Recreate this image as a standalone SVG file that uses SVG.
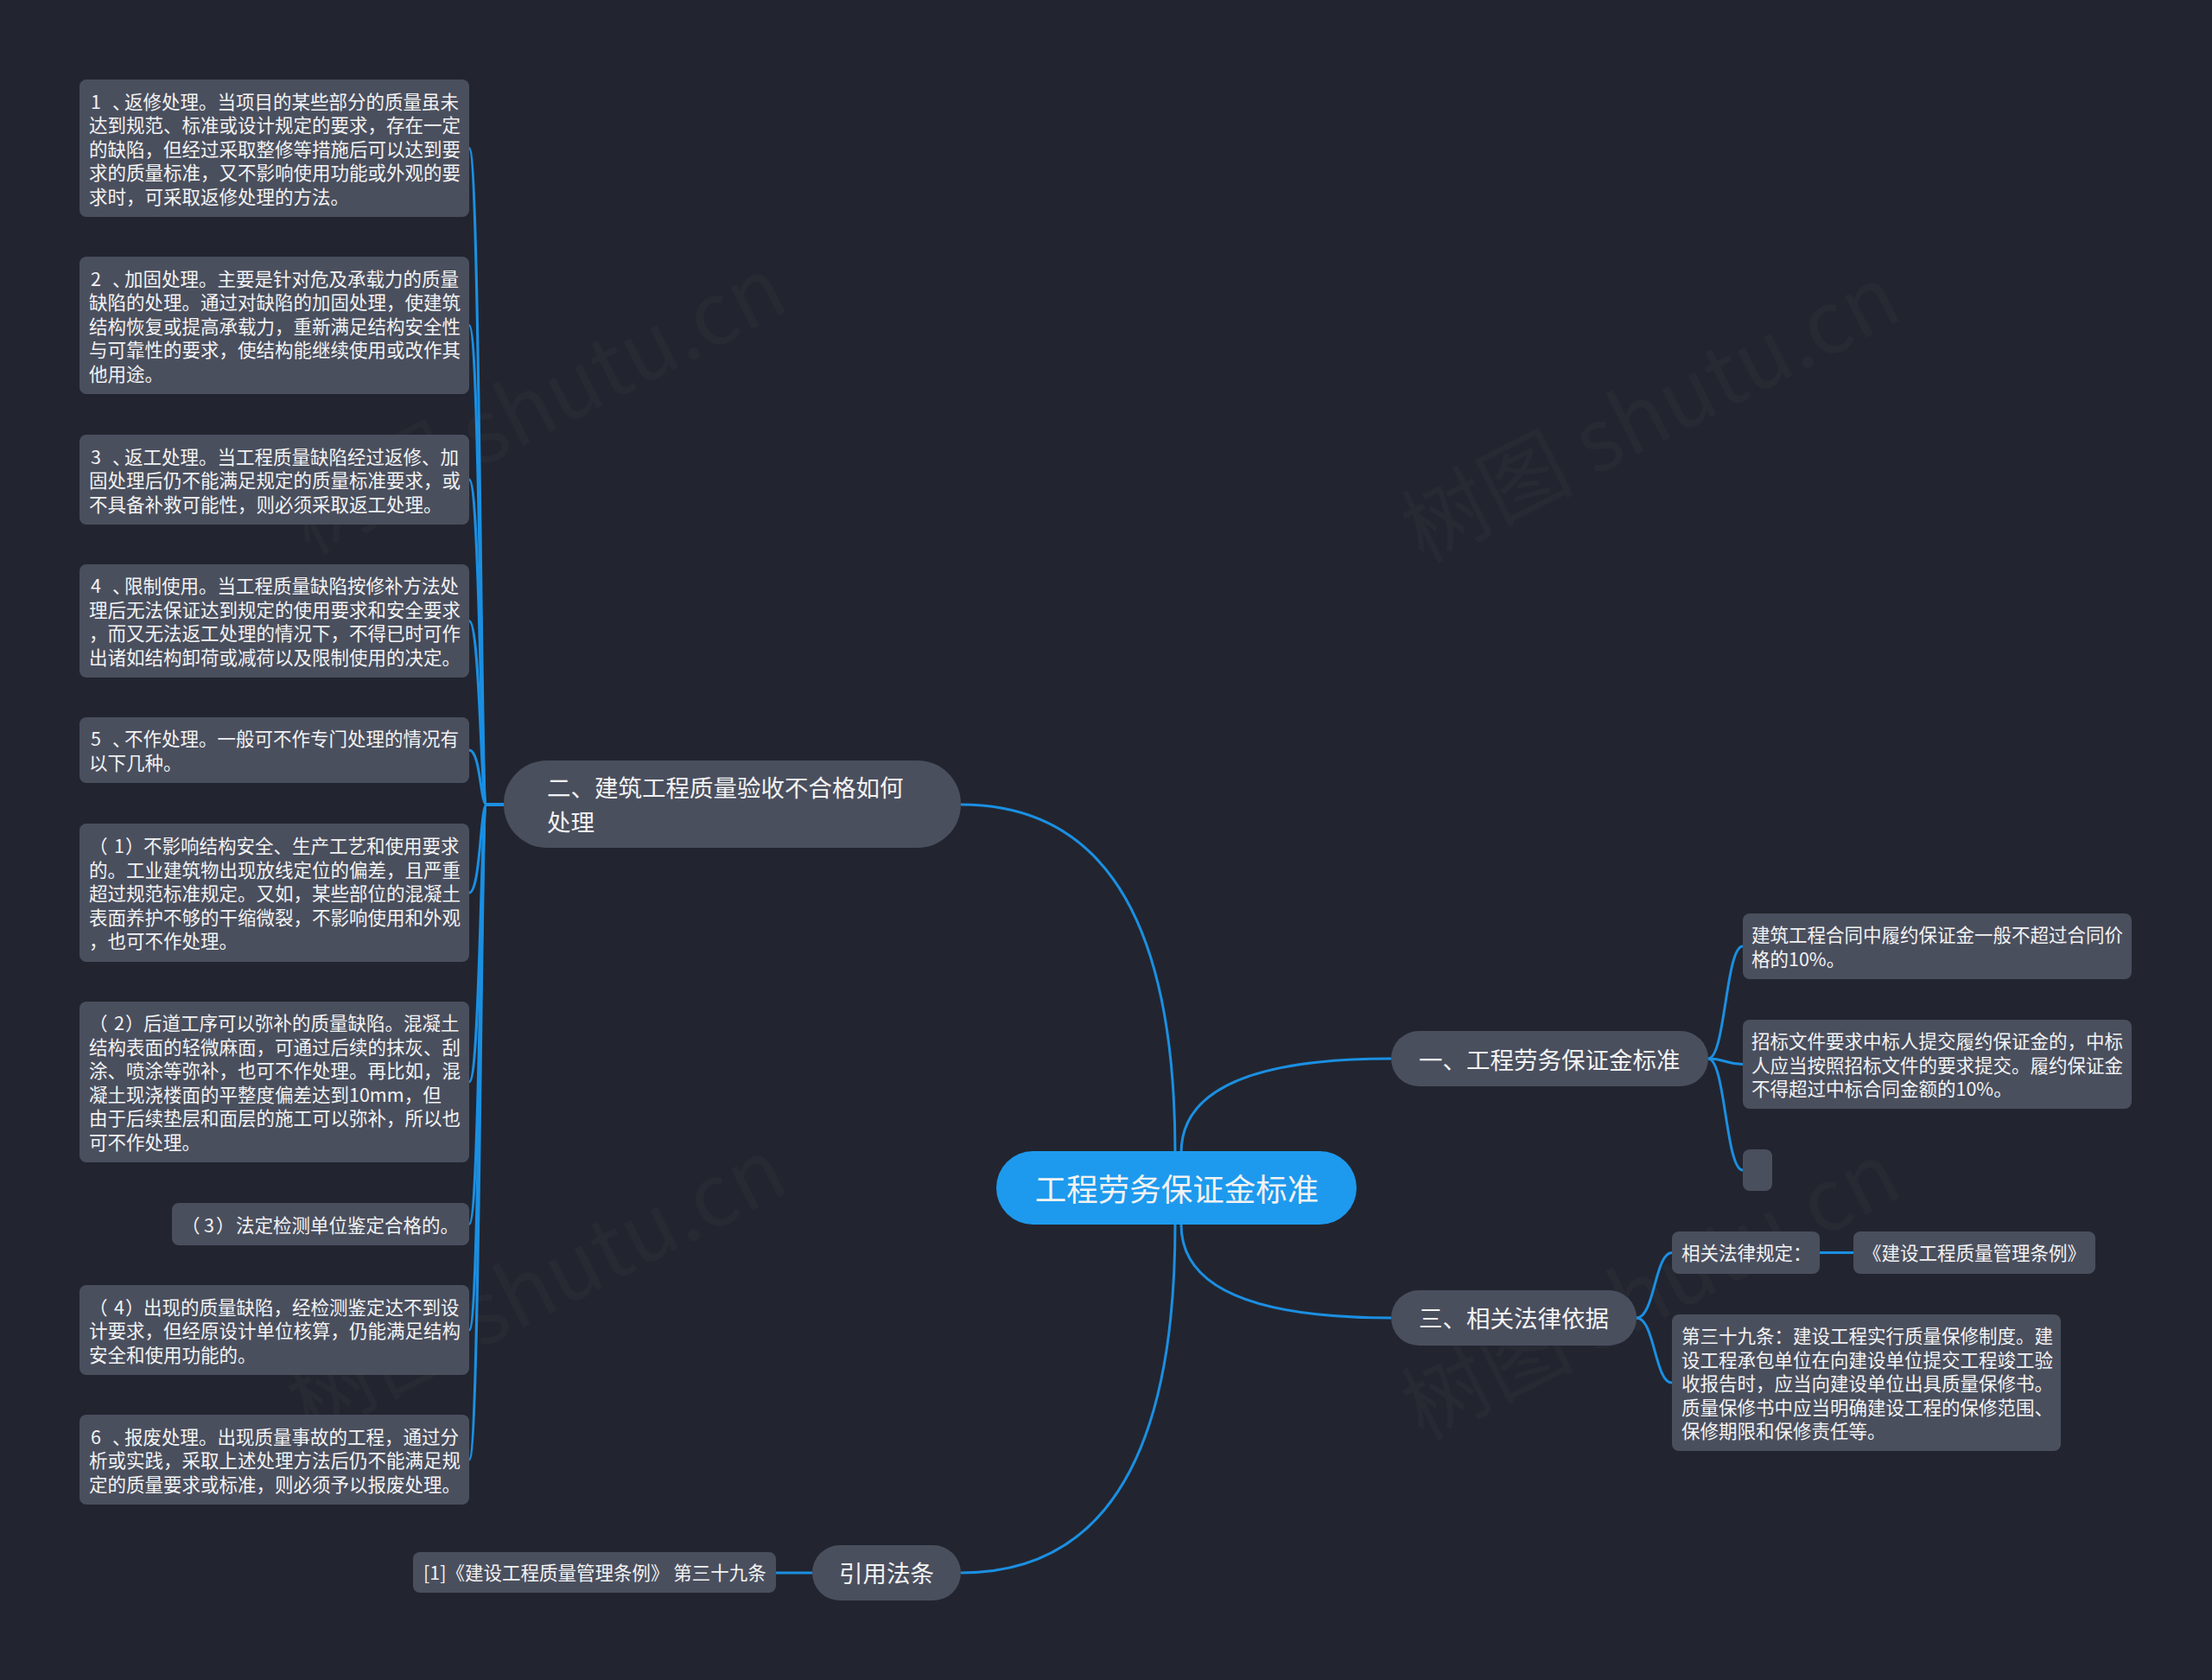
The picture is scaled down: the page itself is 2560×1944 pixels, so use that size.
<svg xmlns="http://www.w3.org/2000/svg" width="2560" height="1944" viewBox="0 0 2560 1944">
<style>
.bg{fill:#22252f}
.leaf{fill:#4a4f5e}
.main{fill:#4a4f5e}
.root{fill:#1d9aee}
.t{font-family:"Noto Sans CJK SC","Noto Sans",sans-serif;fill:#f2f2f2;dominant-baseline:central}
.s{font-size:21.5px}
.m{font-size:27.5px}
.r{font-size:36.5px}
.ln{fill:none;stroke:#1b8fe2;stroke-width:3}
.wm{font-family:"Noto Sans CJK SC","Noto Sans",sans-serif;font-size:100px;fill:#ffffff;fill-opacity:0.025}
</style>
<rect class="bg" x="0" y="0" width="2560" height="1944"/>

<g id="watermarks">
<text class="wm" transform="translate(637,500) rotate(-27)" text-anchor="middle">树图 shutu.cn</text>
<text class="wm" transform="translate(1926,510) rotate(-27)" text-anchor="middle">树图 shutu.cn</text>
<text class="wm" transform="translate(637,1520) rotate(-27)" text-anchor="middle">树图 shutu.cn</text>
<text class="wm" transform="translate(1926,1525) rotate(-27)" text-anchor="middle">树图 shutu.cn</text>
</g>

<g id="connectors">
<path class="ln" d="M1112,931 Q1360,931 1360,1334"/>
<path class="ln" d="M1360,1417 Q1360,1820 1112,1820"/>
<path class="ln" d="M1367,1334 Q1367,1225 1610,1225"/>
<path class="ln" d="M1367,1417 Q1367,1525 1610,1525"/>
<path class="ln" d="M940,1820 L898,1820"/>
<path class="ln" d="M2106,1449.5 L2145,1449.5"/>
<path class="ln" d="M1977,1225 C1997,1225 1997,1095 2017,1095"/>
<path class="ln" d="M1977,1225 C1997,1225 1997,1231.5 2017,1231.5"/>
<path class="ln" d="M1977,1225 C1997,1225 1997,1354 2017,1354"/>
<path class="ln" d="M1894,1525 C1915,1525 1915,1449.5 1935,1449.5"/>
<path class="ln" d="M1894,1525 C1915,1525 1915,1600 1935,1600"/>
<path class="ln" d="M583,931 L563,931 C556,931 556,171.5 543,171.5"/>
<path class="ln" d="M583,931 L563,931 C556,931 556,376.5 543,376.5"/>
<path class="ln" d="M583,931 L563,931 C556,931 556,555 543,555"/>
<path class="ln" d="M583,931 L563,931 C556,931 556,718.5 543,718.5"/>
<path class="ln" d="M583,931 L563,931 C556,931 556,868 543,868"/>
<path class="ln" d="M583,931 L563,931 C556,931 556,1033 543,1033"/>
<path class="ln" d="M583,931 L563,931 C556,931 556,1252 543,1252"/>
<path class="ln" d="M583,931 L563,931 C556,931 556,1416.5 543,1416.5"/>
<path class="ln" d="M583,931 L563,931 C556,931 556,1539 543,1539"/>
<path class="ln" d="M583,931 L563,931 C556,931 556,1689 543,1689"/>
</g>

<g id="root">
<rect class="root" x="1153" y="1332" width="417" height="85" rx="42.5"/>
<text class="t r" x="1362" y="1374" text-anchor="middle">工程劳务保证金标准</text>
</g>

<g id="n2">
<rect class="main" x="583" y="880" width="529" height="101" rx="50"/>
<text class="t m"><tspan x="633" y="910">二、建筑工程质量验收不合格如何</tspan><tspan x="633" y="950">处理</tspan></text>
</g>

<g id="n1">
<rect class="main" x="1610" y="1193" width="367" height="64" rx="32"/>
<text class="t m" x="1642" y="1225">一、工程劳务保证金标准</text>
</g>

<g id="n3">
<rect class="main" x="1610" y="1493" width="284" height="64" rx="32"/>
<text class="t m" x="1642" y="1524">三、相关法律依据</text>
</g>

<g id="n4">
<rect class="main" x="940" y="1788" width="172" height="64" rx="32"/>
<text class="t m" x="1026" y="1819" text-anchor="middle">引用法条</text>
</g>

<g id="ref1">
<rect class="leaf" x="478" y="1796" width="420" height="47" rx="8"/>
<text class="t s" x="490" y="1818.5">[1]《建设工程质量管理条例》 第三十九条</text>
</g>

<g id="l1">
<rect class="leaf" x="92" y="92" width="451" height="159" rx="8"/>
<text class="t s"><tspan x="105 130 144" y="115.5">1、返修处理。当项目的某些部分的质量虽未</tspan><tspan x="103" y="143">达到规范、标准或设计规定的要求，存在一定</tspan><tspan x="103" y="170.5">的缺陷，但经过采取整修等措施后可以达到要</tspan><tspan x="103" y="198">求的质量标准，又不影响使用功能或外观的要</tspan><tspan x="103" y="225.5">求时，可采取返修处理的方法。</tspan></text>
</g>

<g id="l2">
<rect class="leaf" x="92" y="297" width="451" height="159" rx="8"/>
<text class="t s"><tspan x="105 130 144" y="320.5">2、加固处理。主要是针对危及承载力的质量</tspan><tspan x="103" y="348">缺陷的处理。通过对缺陷的加固处理，使建筑</tspan><tspan x="103" y="375.5">结构恢复或提高承载力，重新满足结构安全性</tspan><tspan x="103" y="403">与可靠性的要求，使结构能继续使用或改作其</tspan><tspan x="103" y="430.5">他用途。</tspan></text>
</g>

<g id="l3">
<rect class="leaf" x="92" y="503" width="451" height="104" rx="8"/>
<text class="t s"><tspan x="105 130 144" y="526.5">3、返工处理。当工程质量缺陷经过返修、加</tspan><tspan x="103" y="554">固处理后仍不能满足规定的质量标准要求，或</tspan><tspan x="103" y="581.5">不具备补救可能性，则必须采取返工处理。</tspan></text>
</g>

<g id="l4">
<rect class="leaf" x="92" y="653" width="451" height="131" rx="8"/>
<text class="t s"><tspan x="105 130 144" y="676.25">4、限制使用。当工程质量缺陷按修补方法处</tspan><tspan x="103" y="703.75">理后无法保证达到规定的使用要求和安全要求</tspan><tspan x="103" y="731.25">，而又无法返工处理的情况下，不得已时可作</tspan><tspan x="103" y="758.75">出诸如结构卸荷或减荷以及限制使用的决定。</tspan></text>
</g>

<g id="l5">
<rect class="leaf" x="92" y="830" width="451" height="76" rx="8"/>
<text class="t s"><tspan x="105 130 144" y="853.25">5、不作处理。一般可不作专门处理的情况有</tspan><tspan x="103" y="880.75">以下几种。</tspan></text>
</g>

<g id="l6">
<rect class="leaf" x="92" y="953" width="451" height="160" rx="8"/>
<text class="t s"><tspan x="103 132 145 166" y="977">（1）不影响结构安全、生产工艺和使用要求</tspan><tspan x="103" y="1004.5">的。工业建筑物出现放线定位的偏差，且严重</tspan><tspan x="103" y="1032">超过规范标准规定。又如，某些部位的混凝土</tspan><tspan x="103" y="1059.5">表面养护不够的干缩微裂，不影响使用和外观</tspan><tspan x="103" y="1087">，也可不作处理。</tspan></text>
</g>

<g id="l7">
<rect class="leaf" x="92" y="1159" width="451" height="186" rx="8"/>
<text class="t s"><tspan x="103 132 145 166" y="1182.25">（2）后道工序可以弥补的质量缺陷。混凝土</tspan><tspan x="103" y="1209.75">结构表面的轻微麻面，可通过后续的抹灰、刮</tspan><tspan x="103" y="1237.25">涂、喷涂等弥补，也可不作处理。再比如，混</tspan><tspan x="103" y="1264.75">凝土现浇楼面的平整度偏差达到10mm，但</tspan><tspan x="103" y="1292.25">由于后续垫层和面层的施工可以弥补，所以也</tspan><tspan x="103" y="1319.75">可不作处理。</tspan></text>
</g>

<g id="l8">
<rect class="leaf" x="199" y="1392" width="344" height="49" rx="8"/>
<text class="t s"><tspan x="210 236 250 273" y="1415.5">（3）法定检测单位鉴定合格的。</tspan></text>
</g>

<g id="l9">
<rect class="leaf" x="92" y="1487" width="451" height="104" rx="8"/>
<text class="t s"><tspan x="103 132 145 166" y="1510.5">（4）出现的质量缺陷，经检测鉴定达不到设</tspan><tspan x="103" y="1538">计要求，但经原设计单位核算，仍能满足结构</tspan><tspan x="103" y="1565.5">安全和使用功能的。</tspan></text>
</g>

<g id="l10">
<rect class="leaf" x="92" y="1637" width="451" height="104" rx="8"/>
<text class="t s"><tspan x="105 130 144" y="1660.5">6、报废处理。出现质量事故的工程，通过分</tspan><tspan x="103" y="1688">析或实践，采取上述处理方法后仍不能满足规</tspan><tspan x="103" y="1715.5">定的质量要求或标准，则必须予以报废处理。</tspan></text>
</g>

<g id="r1">
<rect class="leaf" x="2017" y="1057" width="450" height="76" rx="8"/>
<text class="t s"><tspan x="2027" y="1080.25">建筑工程合同中履约保证金一般不超过合同价</tspan><tspan x="2027" y="1107.75">格的10%。</tspan></text>
</g>

<g id="r2">
<rect class="leaf" x="2017" y="1180" width="450" height="103" rx="8"/>
<text class="t s"><tspan x="2027" y="1203">招标文件要求中标人提交履约保证金的，中标</tspan><tspan x="2027" y="1230.5">人应当按照招标文件的要求提交。履约保证金</tspan><tspan x="2027" y="1258">不得超过中标合同金额的10%。</tspan></text>
</g>

<g id="r3">
<rect class="leaf" x="2017" y="1330" width="34" height="48" rx="8"/>
</g>

<g id="r4">
<rect class="leaf" x="1935" y="1425" width="171" height="49" rx="8"/>
<text class="t s" x="1946" y="1448.5">相关法律规定：</text>
</g>

<g id="r5">
<rect class="leaf" x="2145" y="1425" width="280" height="49" rx="8"/>
<text class="t s" x="2285" y="1448.5" text-anchor="middle">《建设工程质量管理条例》</text>
</g>

<g id="r6">
<rect class="leaf" x="1935" y="1521" width="450" height="158" rx="8"/>
<text class="t s"><tspan x="1946" y="1544">第三十九条：建设工程实行质量保修制度。建</tspan><tspan x="1946" y="1571.5">设工程承包单位在向建设单位提交工程竣工验</tspan><tspan x="1946" y="1599">收报告时，应当向建设单位出具质量保修书。</tspan><tspan x="1946" y="1626.5">质量保修书中应当明确建设工程的保修范围、</tspan><tspan x="1946" y="1654">保修期限和保修责任等。</tspan></text>
</g>
</svg>
